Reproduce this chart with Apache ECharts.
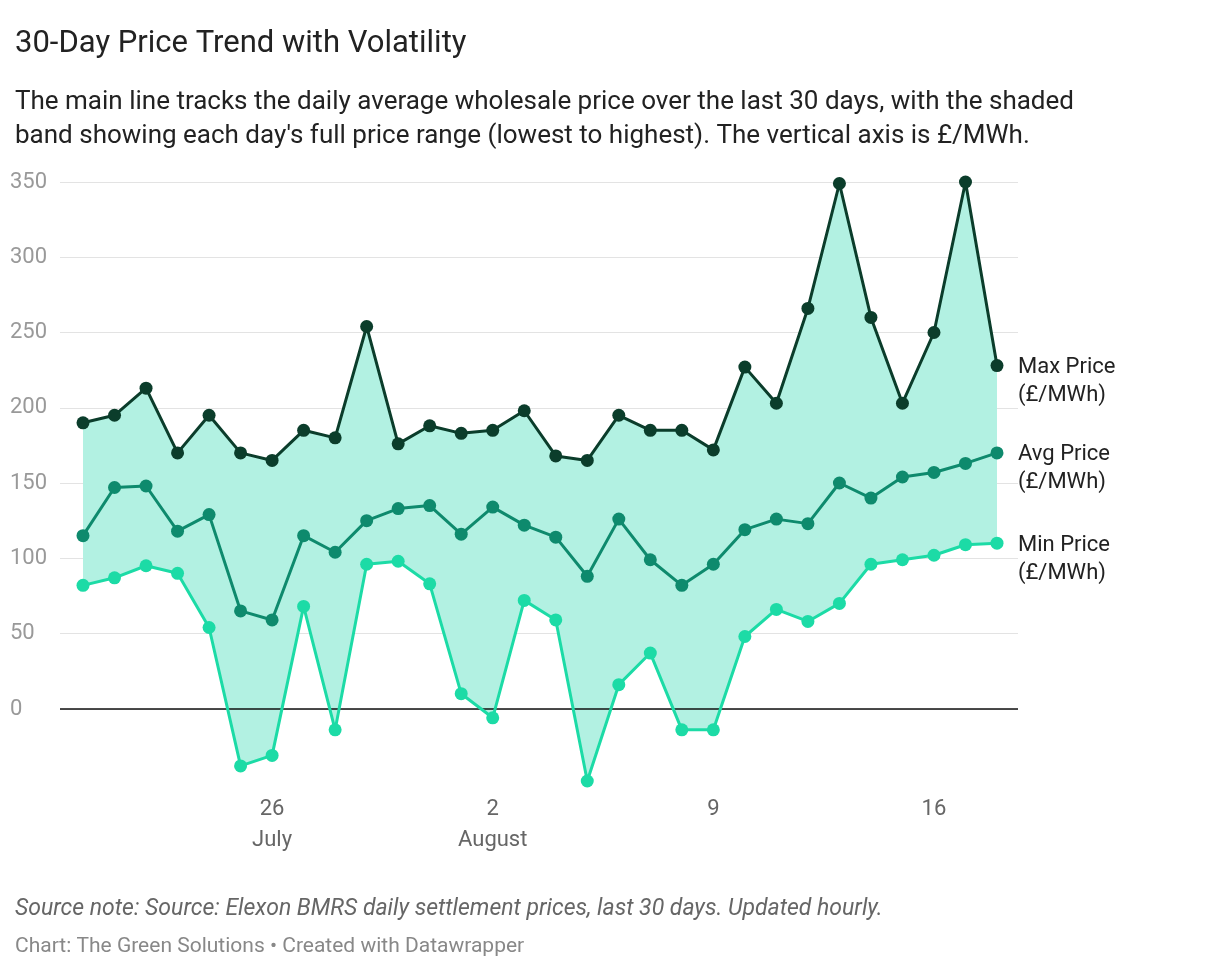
<!DOCTYPE html><html><head><meta charset="utf-8">
<script src="https://cdn.jsdelivr.net/npm/echarts@6/dist/echarts.min.js"></script>
<style>body{margin:0}#c{width:1220px;height:966px}</style></head><body><div id="c"></div>
<script>
const days=['20','21','22','23','24','25','26','27','28','29','30','31','1','2','3','4','5','6','7','8','9','10','11','12','13','14','15','16','17','18'];
const tickLabels={6:'26\nJuly',13:'2\nAugust',20:'9',27:'16'};
const maxPrice=[190,195,213,170,195,170,165,185,180,254,176,188,183,185,198,168,165,195,185,185,172,227,203,266,349,260,203,250,350,228];
const avgPrice=[115,147,148,118,129,65,59,115,104,125,133,135,116,134,122,114,88,126,99,82,96,119,126,123,150,140,154,157,163,170];
const minPrice=[82,87,95,90,54,-38,-31,68,-14,96,98,83,10,-6,72,59,-48,16,37,-14,-14,48,66,58,70,96,99,102,109,110];
const F='Roboto';
const ch=echarts.init(document.getElementById('c'));
const lbl=(t)=>({show:true,formatter:t,color:'#222',fontSize:22,fontFamily:F,lineHeight:28,distance:21,align:'left',offset:[0,16]});
ch.setOption({
 animation:false,
 textStyle:{fontFamily:F},
 title:[{text:'30-Day Price Trend with Volatility',left:10,top:24,textStyle:{fontSize:31,fontWeight:'normal',color:'#222',fontFamily:F}},
  {text:"The main line tracks the daily average wholesale price over the last 30 days, with the shaded\nband showing each day's full price range (lowest to highest). The vertical axis is £/MWh.",left:10,top:80,textStyle:{fontSize:26,fontWeight:'normal',color:'#222',lineHeight:34,fontFamily:F}},
  {text:'Source note: Source: Elexon BMRS daily settlement prices, last 30 days. Updated hourly.',left:10,top:893,textStyle:{fontSize:23,fontStyle:'italic',fontWeight:'normal',color:'#666',fontFamily:F}},
  {text:'Chart: The Green Solutions • Created with Datawrapper',left:10,top:931,textStyle:{fontSize:21,fontWeight:'normal',color:'#888',fontFamily:F}}],
 grid:[{left:83,right:223,top:182,bottom:182},{left:60,right:202,top:182,bottom:257}],
 xAxis:[{type:'category',data:days,boundaryGap:false,gridIndex:0,axisLine:{show:false},axisTick:{show:false},
   axisLabel:{interval:0,margin:10,color:'#666',fontSize:22,lineHeight:31,fontFamily:F,formatter:(v,i)=>tickLabels[i]||''}},
  {type:'value',gridIndex:1,min:0,max:1,show:false}],
 yAxis:[{type:'value',gridIndex:0,min:-50,max:350,interval:50,show:false},
  {type:'value',gridIndex:1,min:0,max:350,interval:50,axisLine:{show:false},axisTick:{show:false},
   splitLine:{lineStyle:{color:'#e3e3e3',width:1}},
   axisLabel:{inside:true,margin:-50,align:'left',verticalAlign:'middle',color:'#999',fontSize:22,fontFamily:F}}],
 series:[
  {type:'line',xAxisIndex:1,yAxisIndex:1,data:[],markLine:{symbol:'none',silent:true,label:{show:false},lineStyle:{color:'#111',width:1.5,type:'solid'},data:[{yAxis:0}]}},
  {type:'line',data:minPrice,stack:'b',stackStrategy:'all',symbol:'none',lineStyle:{opacity:0},z:1},
  {type:'line',data:maxPrice.map((v,i)=>v-minPrice[i]),stack:'b',stackStrategy:'all',symbol:'none',lineStyle:{opacity:0},areaStyle:{color:'#b2f1e2',opacity:1},z:1},
  {type:'line',data:maxPrice,symbol:'circle',symbolSize:13,itemStyle:{color:'#0b3d2b'},lineStyle:{color:'#0b3d2b',width:3},z:5,endLabel:lbl('Max Price\n(£/MWh)')},
  {type:'line',data:avgPrice,symbol:'circle',symbolSize:13,itemStyle:{color:'#0e8a6d'},lineStyle:{color:'#0e8a6d',width:3},z:5,endLabel:lbl('Avg Price\n(£/MWh)')},
  {type:'line',data:minPrice,symbol:'circle',symbolSize:13,itemStyle:{color:'#1cdba6'},lineStyle:{color:'#1cdba6',width:3},z:5,endLabel:lbl('Min Price\n(£/MWh)')}
 ]
});
</script></body></html>
